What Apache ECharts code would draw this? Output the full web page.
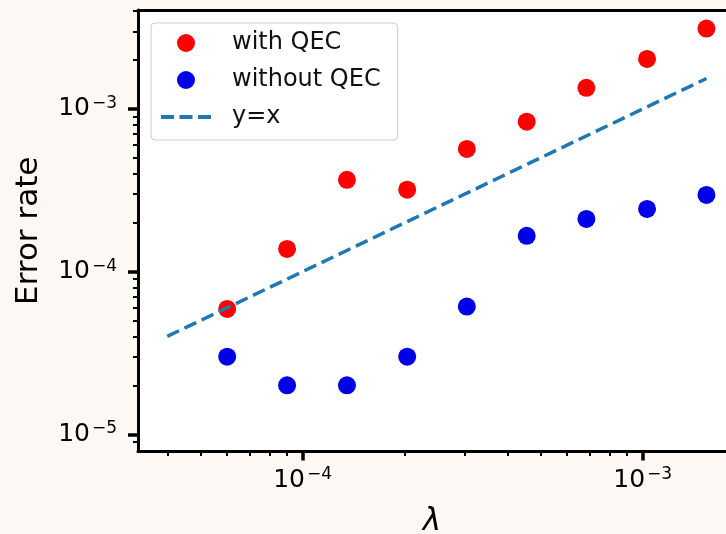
<!DOCTYPE html>
<html><head><meta charset="utf-8">
<script src="https://cdn.jsdelivr.net/npm/echarts@6/dist/echarts.min.js"></script>
<style>html,body{margin:0;padding:0;background:#fdf8f3;}#c{width:726px;height:534px;}</style>
</head><body><div id="c"></div>
<script>
// ---- data ----
const lambdaValues = [6.0e-5, 9.0e-5, 1.35e-4, 2.03e-4, 3.04e-4, 4.56e-4, 6.83e-4, 1.03e-3, 1.54e-3];
const withQEC = [5.9e-5, 1.38e-4, 3.67e-4, 3.19e-4, 5.68e-4, 8.35e-4, 1.35e-3, 2.03e-3, 3.12e-3];
const withoutQEC = [3.0e-5, 2.0e-5, 2.0e-5, 3.0e-5, 6.1e-5, 1.66e-4, 2.11e-4, 2.43e-4, 2.96e-4];
const refLineX = [4.0e-5, 1.54e-3];
const seriesNames = ['with QEC', 'without QEC', 'y=x'];
const xMajorTicks = [1e-4, 1e-3];
const xMinorTicks = [4e-5, 5e-5, 6e-5, 7e-5, 8e-5, 9e-5, 2e-4, 3e-4, 4e-4, 5e-4, 6e-4, 7e-4, 8e-4, 9e-4];
const yMajorTicks = [1e-5, 1e-4, 1e-3];
const yMinorTicks = [9e-6, 2e-5, 3e-5, 4e-5, 5e-5, 6e-5, 7e-5, 8e-5, 9e-5, 2e-4, 3e-4, 4e-4, 5e-4, 6e-4, 7e-4, 8e-4, 9e-4, 2e-3, 3e-3, 4e-3];
const xRange = [3.28e-5, 1.758e-3];
const yRange = [7.84e-6, 4.06e-3];

const FONT = 'DejaVu Sans';
function powLabel(v) {
  const e = Math.round(Math.log10(v));
  return '{b|10}{s|' + (e < 0 ? '\u2212' : '') + Math.abs(e) + '}';
}
const labelRich = {
  b: { fontSize: 25, fontFamily: FONT, color: '#000', lineHeight: 28 },
  s: { fontSize: 17, fontFamily: FONT, color: '#000', verticalAlign: 'top', lineHeight: 17, padding: [0, 0, 0, 2] }
};

const chart = echarts.init(document.getElementById('c'), null, { renderer: 'canvas' });
chart.setOption({
  animation: false,
  backgroundColor: '#fdf8f3',
  grid: { left: 138, right: 0, top: 10, bottom: 82.5, outerBoundsMode: 'none', containLabel: false,
          show: true, backgroundColor: '#ffffff', borderWidth: 0 },
  legend: {
    orient: 'vertical', left: 151, top: 23,
    itemWidth: 50, itemHeight: 18, itemGap: 11,
    padding: [7, 17, 10, 10],
    backgroundColor: 'rgba(255,255,255,0.8)', borderColor: '#cccccc', borderWidth: 1, borderRadius: 4,
    textStyle: { fontFamily: FONT, fontSize: 24, color: '#111', lineHeight: 26, padding: [0, 0, 0, 16] },
    data: [
      { name: seriesNames[0], icon: 'circle' },
      { name: seriesNames[1], icon: 'circle' },
      { name: seriesNames[2], icon: 'path://M0,0h13v4h-13z M18.5,0h13v4h-13z M37,0h13v4h-13z', itemStyle: { color: '#1f77b4' } }
    ]
  },
  xAxis: [
    {
      type: 'log', logBase: 10, min: xRange[0], max: xRange[1], position: 'bottom',
      name: '\u03bb', nameLocation: 'middle', nameGap: 55,
      nameTextStyle: { fontFamily: FONT, fontStyle: 'italic', fontSize: 31, color: '#000' },
      axisLine: { show: true, onZero: false, lineStyle: { color: '#000', width: 3 } },
      axisTick: { show: true, inside: false, length: 9, lineStyle: { color: '#000', width: 3.5 }, customValues: xMajorTicks },
      axisLabel: { show: true, margin: 15, customValues: xMajorTicks, formatter: powLabel, rich: labelRich },
      splitLine: { show: false }, minorTick: { show: false }
    },
    {
      type: 'log', logBase: 10, min: xRange[0], max: xRange[1], position: 'bottom',
      axisLine: { show: false, onZero: false },
      axisTick: { show: true, inside: false, length: 4.5, lineStyle: { color: '#000', width: 2 }, customValues: xMinorTicks },
      axisLabel: { show: false }, splitLine: { show: false }
    },
    {
      type: 'log', logBase: 10, min: xRange[0], max: xRange[1], position: 'top',
      axisLine: { show: true, onZero: false, lineStyle: { color: '#000', width: 3 } },
      axisTick: { show: false }, axisLabel: { show: false }, splitLine: { show: false }
    }
  ],
  yAxis: [
    {
      type: 'log', logBase: 10, min: yRange[0], max: yRange[1], position: 'left',
      name: 'Error rate', nameLocation: 'middle', nameGap: 94,
      nameTextStyle: { fontFamily: FONT, fontSize: 31, color: '#000' },
      axisLine: { show: true, onZero: false, lineStyle: { color: '#000', width: 3 } },
      axisTick: { show: true, inside: false, length: 10, lineStyle: { color: '#000', width: 3.5 }, customValues: yMajorTicks },
      axisLabel: { show: true, margin: 21, customValues: yMajorTicks, formatter: powLabel, rich: labelRich },
      splitLine: { show: false }
    },
    {
      type: 'log', logBase: 10, min: yRange[0], max: yRange[1], position: 'left',
      axisLine: { show: false, onZero: false },
      axisTick: { show: true, inside: false, length: 5, lineStyle: { color: '#000', width: 2 }, customValues: yMinorTicks },
      axisLabel: { show: false }, splitLine: { show: false }
    }
  ],
  series: [
    {
      name: seriesNames[0], type: 'scatter', xAxisIndex: 0, yAxisIndex: 0,
      symbol: 'circle', symbolSize: 18, itemStyle: { color: '#ff0000', opacity: 1 },
      data: lambdaValues.map((x, i) => [x, withQEC[i]]), z: 2
    },
    {
      name: seriesNames[1], type: 'scatter', xAxisIndex: 0, yAxisIndex: 0,
      symbol: 'circle', symbolSize: 18, itemStyle: { color: '#0000e8', opacity: 1 },
      data: lambdaValues.map((x, i) => [x, withoutQEC[i]]), z: 2
    },
    {
      name: seriesNames[2], type: 'line', xAxisIndex: 0, yAxisIndex: 0,
      symbol: 'none', showSymbol: false,
      itemStyle: { color: '#1f77b4' },
      lineStyle: { color: '#1f77b4', width: 3.5, type: [13, 6] },
      data: refLineX.map(x => [x, x]), z: 3
    }
  ]
});
</script></body></html>
